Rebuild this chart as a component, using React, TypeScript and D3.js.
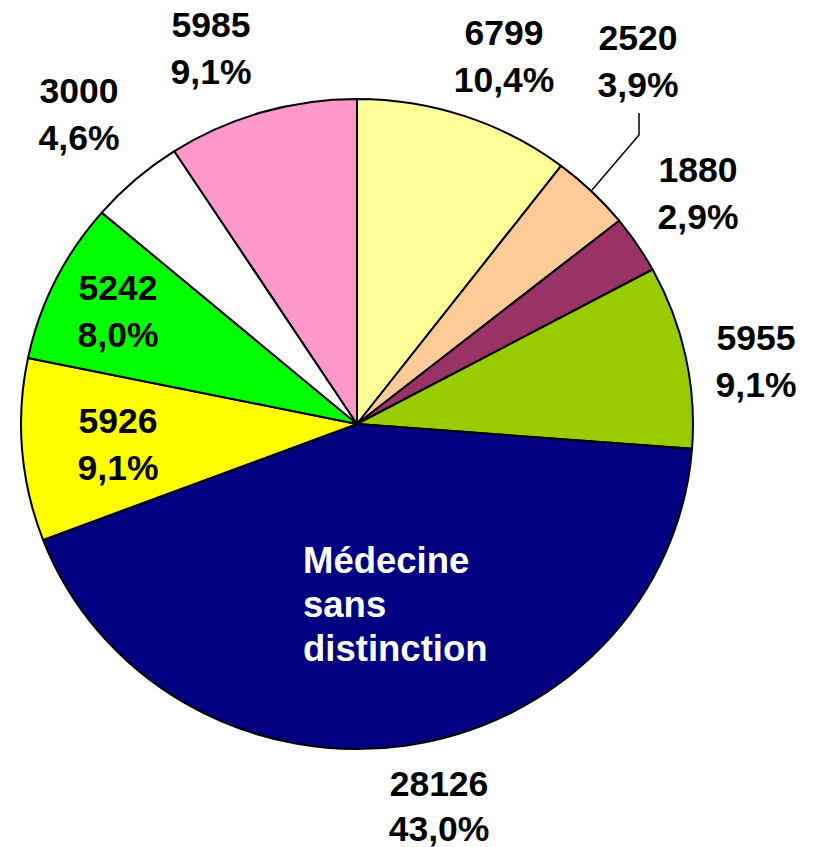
import React from "react";
import * as d3 from "d3";

const categories = ["A", "B", "C", "D", "Médecine sans distinction", "F", "G", "H", "I"];
const values = [6799, 2520, 1880, 5955, 28126, 5926, 5242, 3000, 5985];
const percentLabels = ["10,4%", "3,9%", "2,9%", "9,1%", "43,0%", "9,1%", "8,0%", "4,6%", "9,1%"];
const colors = ["#FFFF99", "#FFCC99", "#993366", "#99CC00", "#000080", "#FFFF00", "#00FF00", "#FFFFFF", "#FF99CC"];
// label anchor (center x, first baseline y) in page pixels
const labelPos: [number, number][] = [
  [504, 45], [638, 50], [698, 182], [756, 350], [439, 796], [118, 433], [118, 300], [79, 103], [211, 37],
];

const W = 816, H = 847;
const cx = 357, cy = 424, ry = 325, rx = 336;

export default function App() {
  const pie = d3.pie<number>().sort(null).value((d) => d)(values);
  const arc = d3.arc<d3.PieArcDatum<number>>().innerRadius(0).outerRadius(ry);
  const font = "'Liberation Sans', Arial, sans-serif";
  return (
    <svg width={W} height={H} style={{ position: "absolute", left: 0, top: 0 }}>
      <g transform={`translate(${cx},${cy}) scale(${rx / ry},1)`}>
        {pie.map((p, i) => (
          <path key={i} d={arc(p) || ""} fill={colors[i]} stroke="#000" strokeWidth={2} vectorEffect="non-scaling-stroke" strokeLinejoin="round" />
        ))}
      </g>
      <polyline points="639,113 639,135 592,190" fill="none" stroke="#000" strokeWidth={1.5} />
      {values.map((v, i) =>
        i === 4 ? null : (
          <text key={i} x={labelPos[i][0]} y={labelPos[i][1]} textAnchor="middle" fontFamily={font} fontWeight="bold" fontSize={35.5} fill="#000">
            <tspan x={labelPos[i][0]}>{v}</tspan>
            <tspan x={labelPos[i][0]} dy={46.5}>{percentLabels[i]}</tspan>
          </text>
        )
      )}
      <text x={labelPos[4][0]} y={labelPos[4][1]} textAnchor="middle" fontFamily={font} fontWeight="bold" fontSize={35.5} fill="#000">
        <tspan x={labelPos[4][0]}>{values[4]}</tspan>
        <tspan x={labelPos[4][0]} dy={45}>{percentLabels[4]}</tspan>
      </text>
      <text x={303} y={573} fontFamily={font} fontWeight="bold" fontSize={36.5} fill="#fff">
        {categories[4].split(" ").map((w, j) => (
          <tspan key={j} x={303} dy={j === 0 ? 0 : 44}>{w}</tspan>
        ))}
      </text>
    </svg>
  );
}
